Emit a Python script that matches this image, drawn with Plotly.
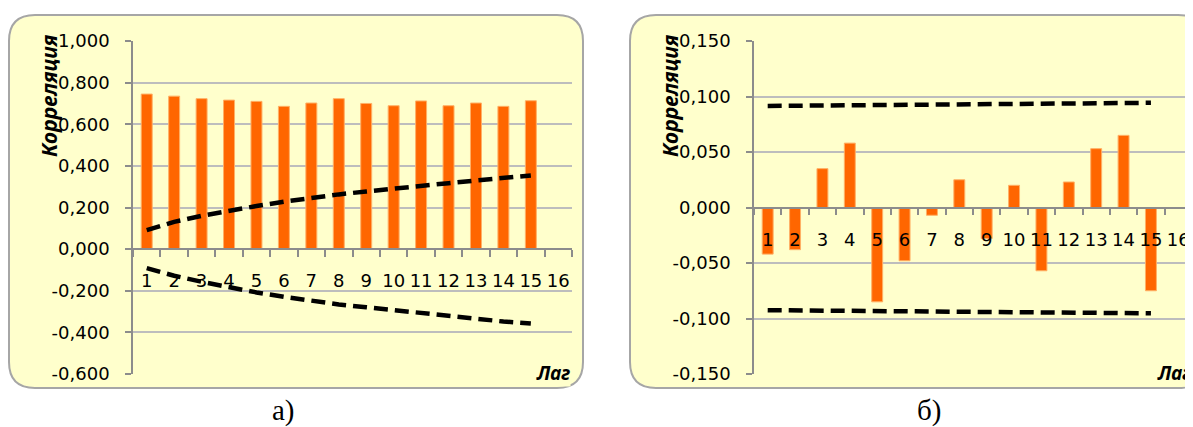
import plotly.graph_objects as go

W, H = 1193, 427
OFF = 8  # default page margin of the html body

# ---------------- data ----------------
lags = [str(i) for i in range(1, 17)]          # category labels 1..16
bar_lags = lags[:15]

acf_a = [0.745, 0.735, 0.723, 0.716, 0.710, 0.686, 0.702, 0.723, 0.700,
         0.689, 0.712, 0.689, 0.702, 0.686, 0.713]
upper_a = [0.091, 0.131, 0.160, 0.186, 0.207, 0.228, 0.248, 0.263, 0.277,
           0.292, 0.306, 0.317, 0.330, 0.343, 0.354]
lower_a = [-0.091, -0.128, -0.157, -0.184, -0.208, -0.229, -0.248, -0.266,
           -0.279, -0.293, -0.309, -0.322, -0.335, -0.348, -0.357]

acf_b = [-0.042, -0.038, 0.035, 0.058, -0.085, -0.048, -0.007, 0.025,
         -0.028, 0.020, -0.057, 0.023, 0.053, 0.065, -0.075]
upper_b = [0.0915, 0.0917, 0.0919, 0.0921, 0.0923, 0.0925, 0.0927, 0.0929,
           0.0931, 0.0933, 0.0935, 0.0937, 0.0939, 0.0941, 0.0943]
lower_b = [-0.0925, -0.0927, -0.0929, -0.0931, -0.0933, -0.0935, -0.0937,
           -0.0939, -0.0941, -0.0943, -0.0945, -0.0947, -0.0949, -0.0951, -0.0953]

yticks_a = [-0.6, -0.4, -0.2, 0.0, 0.2, 0.4, 0.6, 0.8, 1.0]
yticktext_a = ["-0,600", "-0,400", "-0,200", "0,000", "0,200", "0,400",
               "0,600", "0,800", "1,000"]
yticks_b = [-0.15, -0.10, -0.05, 0.0, 0.05, 0.10, 0.15]
yticktext_b = ["-0,150", "-0,100", "-0,050", "0,000", "0,050", "0,100", "0,150"]

y_title = "Корреляция"
x_title = "Лаг"
captions = ["а)", "б)"]

# ---------------- style ----------------
BAR = "#FF6600"
BG = "#FFFFCC"
GRID = "#BDBDBD"
AXIS = "#8C8C8C"
FONT = "DejaVu Sans"
TFONT = "Noto Sans"


def px_x(p):
    return (p - OFF) / W


def px_y(p):
    return 1 - (p - OFF) / H


dom_y = [px_y(374), px_y(41)]
dom_xa = [px_x(133), px_x(572)]
dom_xb = [px_x(754), min(1.0, px_x(1192))]

fig = go.Figure()

for acf, up, lo, xa, ya in [(acf_a, upper_a, lower_a, "x", "y"),
                            (acf_b, upper_b, lower_b, "x2", "y2")]:
    fig.add_trace(go.Bar(x=bar_lags, y=acf, xaxis=xa, yaxis=ya, width=0.4,
                         marker=dict(color=BAR, line=dict(color="#FFB066", width=1)),
                         showlegend=False))
    for band in (up, lo):
        fig.add_trace(go.Scatter(x=bar_lags, y=band, xaxis=xa, yaxis=ya,
                                 mode="lines", showlegend=False,
                                 line=dict(color="black", width=4.5, dash="14px,7px")))


def zero_pos(rng):
    return dom_y[0] + (0 - rng[0]) / (rng[1] - rng[0]) * (dom_y[1] - dom_y[0])


rng_a = [-0.6, 1.0]
rng_b = [-0.15, 0.15]

common_x = dict(type="category", categoryorder="array", categoryarray=lags,
                range=[-0.5, 15.5], showgrid=False, showline=True,
                linecolor=AXIS, linewidth=1.5, ticks="outside", ticklen=7,
                tickcolor=AXIS, tickwidth=1.5, tickson="boundaries",
                tickangle=0, automargin=False,
                tickfont=dict(family=FONT, size=18, color="black"),
                anchor="free", zeroline=False, ticklabelstandoff=16)
common_y = dict(showgrid=True, gridcolor=GRID, gridwidth=1.5, zeroline=False,
                showline=True, linecolor=AXIS, linewidth=1.5, ticks="outside",
                ticklen=6, tickcolor=AXIS, tickwidth=1.5, automargin=False,
                tickfont=dict(family=FONT, size=18, color="black"),
                ticklabelstandoff=12)

fig.update_layout(
    width=W, height=H, autosize=False,
    margin=dict(l=0, r=0, t=0, b=0, pad=0, autoexpand=False),
    paper_bgcolor="white", plot_bgcolor="rgba(0,0,0,0)",
    showlegend=False,
    xaxis=dict(common_x, domain=dom_xa, position=zero_pos(rng_a)),
    yaxis=dict(common_y, domain=dom_y, range=rng_a, tickvals=yticks_a,
               ticktext=yticktext_a, anchor="x"),
    xaxis2=dict(common_x, domain=dom_xb, position=zero_pos(rng_b)),
    yaxis2=dict(common_y, domain=dom_y, range=rng_b, tickvals=yticks_b,
                ticktext=yticktext_b, anchor="x2"),
)


def rounded_box(x0, y0, x1, y1, r):
    X = px_x
    Y = px_y
    return (f"M {X(x0 + r)},{Y(y0)} L {X(x1 - r)},{Y(y0)} "
            f"Q {X(x1)},{Y(y0)} {X(x1)},{Y(y0 + r)} "
            f"L {X(x1)},{Y(y1 - r)} Q {X(x1)},{Y(y1)} {X(x1 - r)},{Y(y1)} "
            f"L {X(x0 + r)},{Y(y1)} Q {X(x0)},{Y(y1)} {X(x0)},{Y(y1 - r)} "
            f"L {X(x0)},{Y(y0 + r)} Q {X(x0)},{Y(y0)} {X(x0 + r)},{Y(y0)} Z")


for x0 in (9, 630):
    fig.add_shape(type="path", xref="paper", yref="paper",
                  path=rounded_box(x0, 15, x0 + 574, 388, 26),
                  fillcolor=BG, line=dict(color="#A6A6A6", width=2),
                  layer="below")

annotations = []
for dx, cap_x, cap in ((0, 283, captions[0]), (621, 929, captions[1])):
    annotations.append(dict(text=f"<b><i>{y_title}</i></b>", textangle=-90,
                            x=px_x(49 + dx), y=px_y(96), xref="paper", yref="paper",
                            xanchor="center", yanchor="middle", showarrow=False,
                            font=dict(family=TFONT, size=21, color="black")))
    annotations.append(dict(text=f"<b><i>{x_title}</i></b>",
                            x=px_x(535 + dx), y=px_y(373), xref="paper", yref="paper",
                            xanchor="left", yanchor="middle", showarrow=False,
                            bgcolor=BG, borderpad=0,
                            font=dict(family=TFONT, size=19, color="black")))
    annotations.append(dict(text=cap,
                            x=px_x(cap_x), y=px_y(410), xref="paper", yref="paper",
                            xanchor="center", yanchor="middle", showarrow=False,
                            font=dict(family="Liberation Serif", size=29, color="black")))
fig.update_layout(annotations=annotations)

fig.write_html("out.html")
